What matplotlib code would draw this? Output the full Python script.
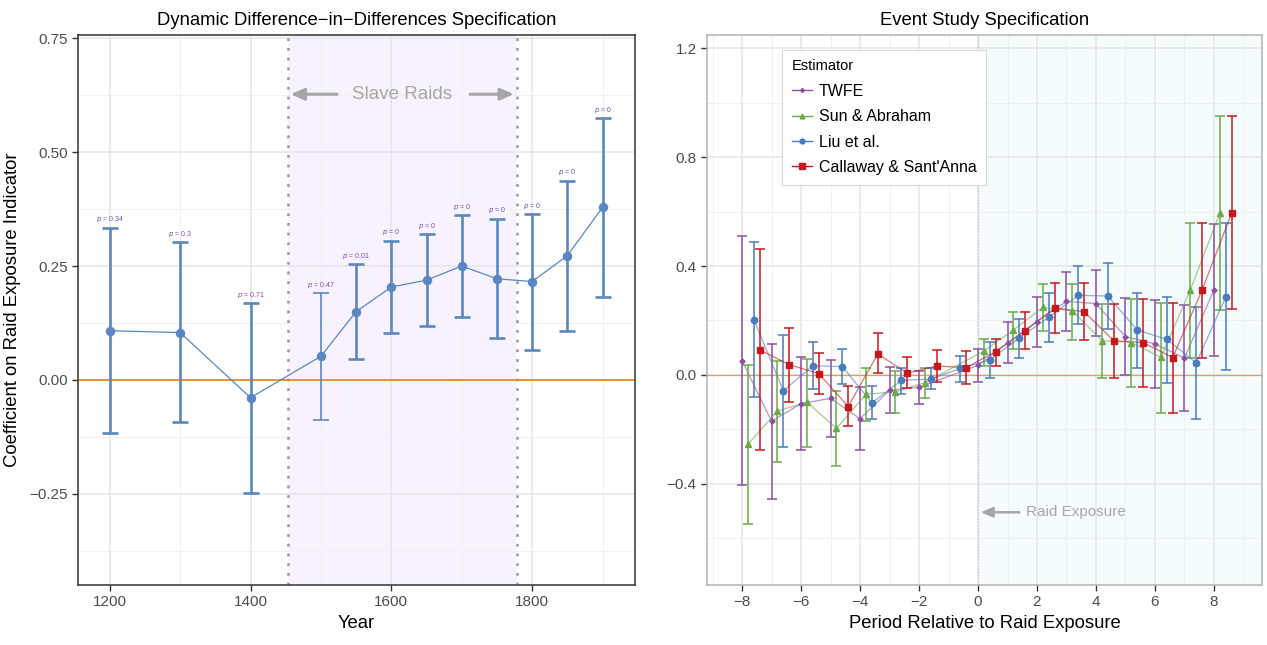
import numpy as np
import matplotlib
matplotlib.use("Agg")
import matplotlib.pyplot as plt
from matplotlib.ticker import MultipleLocator, FuncFormatter

plt.rcParams['font.family'] = ['Liberation Sans', 'DejaVu Sans']

# ---- left panel data: dynamic DiD ----
years = [1200, 1300, 1400, 1500, 1550, 1600, 1650, 1700, 1750, 1800, 1850, 1900]
coef = [0.108, 0.104, -0.039, 0.052, 0.150, 0.204, 0.219, 0.250, 0.222, 0.216, 0.273, 0.379]
ci_hi = [0.334, 0.303, 0.169, 0.190, 0.254, 0.306, 0.320, 0.362, 0.354, 0.364, 0.437, 0.575]
ci_lo = [-0.116, -0.093, -0.248, -0.087, 0.045, 0.102, 0.119, 0.138, 0.091, 0.066, 0.108, 0.182]
pvals = ['0.34', '0.3', '0.71', '0.47', '0.01', '0', '0', '0', '0', '0', '0', '0']
raid_start, raid_end = 1453, 1778

# ---- right panel data: event study ----
periods = list(range(-8, 9))
nan = np.nan
twfe = [0.052, -0.170, -0.105, -0.086, -0.161, -0.056, -0.045, nan, 0.035, 0.117, 0.196, 0.270, 0.262, 0.141, 0.114, 0.062, 0.312]
twfe_lo = [-0.404, -0.456, -0.276, -0.229, -0.276, -0.141, -0.108, nan, -0.027, 0.043, 0.102, 0.161, 0.142, -0.001, -0.048, -0.133, 0.069]
twfe_hi = [0.509, 0.114, 0.065, 0.054, -0.045, 0.028, 0.016, nan, 0.095, 0.193, 0.287, 0.379, 0.384, 0.281, 0.274, 0.256, 0.553]

sa = [-0.254, -0.132, -0.100, -0.196, -0.071, -0.062, -0.028, nan, 0.088, 0.165, 0.248, 0.235, 0.126, 0.119, 0.065, 0.312, 0.594]
sa_lo = [-0.547, -0.320, -0.265, -0.334, -0.170, -0.141, -0.086, nan, 0.033, 0.095, 0.161, 0.128, -0.011, -0.044, -0.141, 0.061, 0.237]
sa_hi = [0.036, 0.050, 0.058, -0.060, 0.025, 0.014, 0.027, nan, 0.133, 0.232, 0.333, 0.335, 0.259, 0.278, 0.263, 0.559, 0.949]

liu = [0.203, -0.058, 0.034, 0.031, -0.102, -0.020, -0.015, 0.024, 0.055, 0.136, 0.212, 0.292, 0.290, 0.165, 0.131, 0.044, 0.286]
liu_lo = [-0.082, -0.265, -0.052, -0.034, -0.163, -0.071, -0.053, -0.026, -0.012, 0.061, 0.121, 0.186, 0.168, 0.024, -0.031, -0.163, 0.018]
liu_hi = [0.487, 0.146, 0.120, 0.094, -0.042, 0.027, 0.024, 0.071, 0.120, 0.207, 0.302, 0.399, 0.412, 0.302, 0.287, 0.248, 0.557]

cs = [0.092, 0.038, 0.005, -0.116, 0.077, 0.007, 0.033, 0.027, 0.086, 0.163, 0.246, 0.232, 0.126, 0.119, 0.064, 0.312, 0.594]
cs_lo = [-0.276, -0.100, -0.071, -0.188, 0.006, -0.049, -0.026, -0.034, 0.032, 0.094, 0.154, 0.128, -0.011, -0.044, -0.141, 0.061, 0.241]
cs_hi = [0.461, 0.171, 0.080, -0.042, 0.153, 0.065, 0.093, 0.089, 0.133, 0.232, 0.339, 0.339, 0.259, 0.280, 0.263, 0.559, 0.949]

estimators = ['TWFE', 'Sun & Abraham', 'Liu et al.', "Callaway & Sant'Anna"]
est_data = [(twfe, twfe_lo, twfe_hi), (sa, sa_lo, sa_hi), (liu, liu_lo, liu_hi), (cs, cs_lo, cs_hi)]
est_colors = ['#8E4FA6', '#6AAB46', '#4A7BBF', '#C8171D']
est_markers = ['D', '^', 'o', 's']
est_msize = [2.6, 4.6, 4.6, 5.0]
dodge = [0.0, 0.2, 0.4, 0.6]


def minus_fmt(fmt):
    return FuncFormatter(lambda v, p: (fmt % v).replace('-', '\u2212'))


def style_axes(ax, spine_col):
    ax.set_axisbelow(True)
    for s in ax.spines.values():
        s.set_color(spine_col)
        s.set_linewidth(1.1)
    ax.tick_params(which='major', length=4, width=1, color='#333333',
                   labelcolor='#4D4D4D', labelsize=11)
    ax.tick_params(which='minor', length=0)
    ax.grid(which='major', color='#E6E6E6', lw=1.1)
    ax.grid(which='minor', color='#EFEFEF', lw=0.6)


fig = plt.figure(figsize=(12.67, 6.45), dpi=100)

# ================= left panel =================
ax1 = fig.add_axes([78 / 1267, 60 / 645, 557 / 1267, 550 / 645])
style_axes(ax1, '#333333')
ax1.set_xlim(1155, 1946)
ax1.set_ylim(-0.45, 0.757)
ax1.xaxis.set_major_locator(MultipleLocator(200))
ax1.xaxis.set_minor_locator(MultipleLocator(100))
ax1.yaxis.set_major_locator(MultipleLocator(0.25))
ax1.yaxis.set_minor_locator(MultipleLocator(0.125))
ax1.yaxis.set_major_formatter(minus_fmt('%.2f'))

ax1.axvspan(raid_start, raid_end, color='#F7F2FD', zorder=0.2, lw=0)
for xv in (raid_start, raid_end):
    ax1.axvline(xv, color='#A99BB3', ls=(0, (1, 2.5)), lw=2, zorder=1)
ax1.axhline(0, color='#E8860C', lw=1.2, zorder=1.5)

blue = '#5A87C2'
ax1.plot(years, coef, color=blue, lw=0.9, zorder=2)
for i, yr in enumerate(years):
    lw = 1.2 if yr == 1500 else 1.9
    ax1.errorbar(yr, coef[i], yerr=[[coef[i] - ci_lo[i]], [ci_hi[i] - coef[i]]],
                 fmt='none', ecolor=blue, elinewidth=lw, capsize=5.5, capthick=lw, zorder=3)
    ax1.annotate(f'$p$ = {pvals[i]}', (yr, ci_hi[i]), xytext=(0, 6),
                 textcoords='offset points', ha='center', va='center',
                 fontsize=5, color='#7B4FB0')
ax1.plot(years, coef, 'o', color=blue, ms=5.8, zorder=4)

ax1.text((raid_start + raid_end) / 2, 0.627, 'Slave Raids', ha='center', va='center',
         fontsize=13.5, color='#A6A6A6')
arrow_kw = dict(arrowstyle='-|>,head_length=0.8,head_width=0.35', color='#A6A6A6', lw=2.2)
ax1.annotate('', xy=(raid_start, 0.627), xytext=(1527, 0.627), arrowprops=arrow_kw)
ax1.annotate('', xy=(raid_end, 0.627), xytext=(1708, 0.627), arrowprops=arrow_kw)

ax1.set_title('Dynamic Difference\u2212in\u2212Differences Specification', fontsize=13.3, pad=7)
ax1.set_xlabel('Year', fontsize=13.3, labelpad=4)
ax1.set_ylabel('Coefficient on Raid Exposure Indicator', fontsize=13.3, labelpad=6)

# ================= right panel =================
ax2 = fig.add_axes([707 / 1267, 60 / 645, 555 / 1267, 550 / 645])
style_axes(ax2, '#B3B3B3')
ax2.set_xlim(-9.19, 9.63)
ax2.set_ylim(-0.771, 1.248)
ax2.xaxis.set_major_locator(MultipleLocator(2))
ax2.xaxis.set_minor_locator(MultipleLocator(1))
ax2.yaxis.set_major_locator(MultipleLocator(0.4))
ax2.yaxis.set_minor_locator(MultipleLocator(0.2))
ax2.yaxis.set_major_formatter(minus_fmt('%.1f'))
ax2.xaxis.set_major_formatter(minus_fmt('%d'))

ax2.axvspan(0, 9.63, color='#F5FCFD', zorder=0.2, lw=0)
ax2.axvline(0, color='#BDBDBD', ls=(0, (1, 1.5)), lw=0.9, zorder=1)
ax2.axhline(0, color='#E0A060', lw=0.9, zorder=1.5)

handles = []
for k, name in enumerate(estimators):
    est, lo, hi = (np.array(a, dtype=float) for a in est_data[k])
    x = np.array(periods, dtype=float) + dodge[k]
    ok = ~np.isnan(est)
    x, est, lo, hi = x[ok], est[ok], lo[ok], hi[ok]
    col = est_colors[k]
    ax2.plot(x, est, color=col, lw=0.9, alpha=0.6, zorder=2 + k)
    ax2.errorbar(x, est, yerr=[est - lo, hi - est], fmt='none', ecolor=col,
                 elinewidth=1.1, capsize=3.6, capthick=1.1, zorder=2 + k)
    ax2.plot(x, est, est_markers[k], color=col, ms=est_msize[k], zorder=6 + k)
    h, = ax2.plot([], [], color=col, lw=1.0, marker=est_markers[k],
                  ms=est_msize[k] * 0.75)
    handles.append(h)

ax2.annotate('', xy=(0, -0.504), xytext=(1.5, -0.504),
             arrowprops=dict(arrowstyle='-|>,head_length=0.7,head_width=0.3',
                             color='#A6A6A6', lw=1.8))
ax2.text(1.62, -0.504, 'Raid Exposure', ha='left', va='center', fontsize=11, color='#A6A6A6')

leg = ax2.legend(handles, estimators, title='Estimator', loc='upper left',
                 bbox_to_anchor=(0.135, 0.973), borderaxespad=0, fontsize=11.5,
                 title_fontsize=10.5, frameon=True, fancybox=False, handlelength=1.3,
                 handletextpad=0.4, labelspacing=0.65, borderpad=0.6)
leg._legend_box.align = 'left'
leg.get_frame().set_edgecolor('#D9D9D9')
leg.get_frame().set_linewidth(0.8)
leg.get_frame().set_alpha(1)
leg.set_zorder(20)

ax2.set_title('Event Study Specification', fontsize=13.3, pad=7)
ax2.set_xlabel('Period Relative to Raid Exposure', fontsize=13.3, labelpad=4)

fig.savefig('out.png', dpi=100)
